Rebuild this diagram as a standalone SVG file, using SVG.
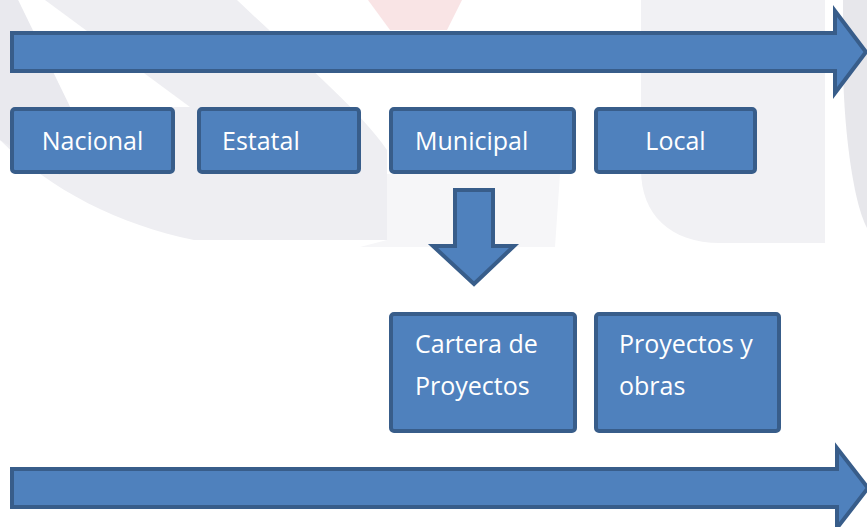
<svg xmlns="http://www.w3.org/2000/svg" width="867" height="527" viewBox="0 0 867 527">
  <style>
    .shape { fill: #4F81BD; stroke: #385D8A; stroke-width: 4; stroke-linejoin: miter; }
    .box { fill: #4F81BD; stroke: #385D8A; stroke-width: 4; }
    .lbl { font-family: "Open Sans", "Noto Sans", "Liberation Sans", sans-serif; font-size: 25px; fill: #FFFFFF; }
    .mid { text-anchor: middle; }
  </style>
  <rect x="0" y="0" width="867" height="527" fill="#FFFFFF"/>
  <g id="watermark">
    <path d="M0,0 L237,0 C300,60 360,110 387,150 L387,240 L194,240 C120,225 50,190 0,140 Z" fill="#eeeef2"/>
    <path d="M18,0 L45,0 L190,107 L70,107 Z" fill="#ffffff"/>
    <path d="M0,0 L18,0 L70,107 L60,175 L0,140 Z" fill="#e9e9ee"/>
    <path d="M387,174 L560,174 L555,247 L360,247 L387,240 Z" fill="#f6f6f8"/>
    <path d="M641,0 L825,0 L825,243 L720,243 C670,243 641,214 641,170 Z" fill="#f1f1f4"/>
    <path d="M843,0 L867,0 L867,228 C852,200 843,120 843,60 Z" fill="#e7e7eb"/>
    <path d="M368,0 L462,0 L447,30 L390,30 Z" fill="#f9e4e5"/>
  </g>
  <g id="connectors">
    <path id="arrow-top" class="shape" d="M12,33 L835,33 L835,11 L866,52 L835,93 L835,71 L12,71 Z"/>
    <path id="arrow-down" class="shape" d="M455,190 L493,190 L493,246 L514,246 L474,284 L433,246 L455,246 Z"/>
    <path id="arrow-bottom" class="shape" d="M12,469 L837,469 L837,448 L868,488 L837,528 L837,507 L12,507 Z"/>
  </g>
  <g id="node-nacional">
    <rect class="box" x="12" y="109" width="161" height="63" rx="3"/>
    <text class="lbl mid" x="92.5" y="150">Nacional</text>
  </g>
  <g id="node-estatal">
    <rect class="box" x="199" y="109" width="160" height="63" rx="3"/>
    <text class="lbl" x="222" y="150">Estatal</text>
  </g>
  <g id="node-municipal">
    <rect class="box" x="391" y="109" width="183" height="63" rx="3"/>
    <text class="lbl" x="415" y="150">Municipal</text>
  </g>
  <g id="node-local">
    <rect class="box" x="596" y="109" width="159" height="63" rx="3"/>
    <text class="lbl mid" x="675.5" y="150">Local</text>
  </g>
  <g id="node-cartera">
    <rect class="box" x="391" y="314" width="184" height="117" rx="3"/>
    <text class="lbl" x="415" y="353">Cartera de</text>
    <text class="lbl" x="415" y="395">Proyectos</text>
  </g>
  <g id="node-proyectos-obras">
    <rect class="box" x="596" y="314" width="183" height="117" rx="3"/>
    <text class="lbl" x="619" y="353">Proyectos y</text>
    <text class="lbl" x="619" y="395">obras</text>
  </g>
</svg>
